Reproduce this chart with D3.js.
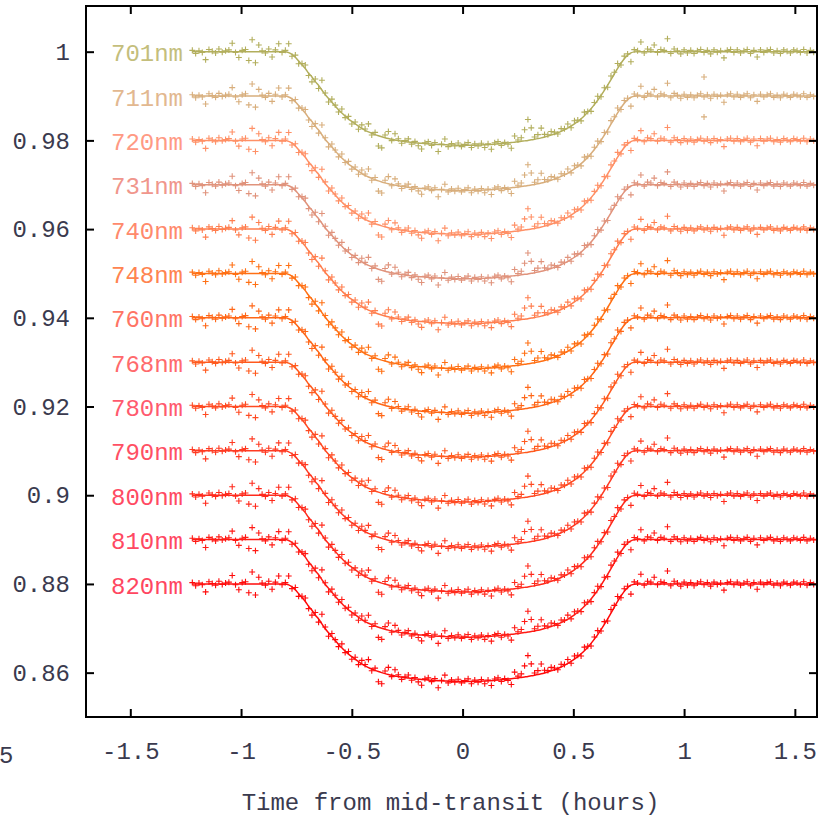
<!DOCTYPE html>
<html><head><meta charset="utf-8">
<script src="https://cdn.jsdelivr.net/npm/d3@7"></script>
<style>
html,body{margin:0;padding:0;background:#fff;}
svg{display:block;}
text{font-family:"Liberation Mono","DejaVu Sans Mono",monospace;}
</style></head>
<body><svg id="chart" width="829" height="819"></svg>
<script>
// ---------- data ----------
const seriesNames = ["701nm","711nm","720nm","731nm","740nm","748nm","760nm","768nm","780nm","790nm","800nm","810nm","820nm"];
const baselines   = [1.00,0.99,0.98,0.97,0.96,0.95,0.94,0.93,0.92,0.91,0.90,0.89,0.88];
const depths      = [0.0211,0.0213,0.0212,0.0212,0.0213,0.0215,0.0215,0.0214,0.0215,0.0217,0.0218,0.0220,0.0220];
const lineColors  = ["#b2ae5c","#d8ae7c","#ff9066","#e0937c","#ff7e4e","#ff7014","#ff6616","#ff5a1e","#ff4a22","#ff3a22","#ff2a1c","#ff1a14","#ff0a0a"];
const labelColors = ["#c4be7c","#e2b890","#ff9a84","#f0968c","#ff8a6c","#ff8450","#ff7464","#ff6a6c","#ff5a6e","#ff5064","#ff4a62","#ff4862","#ff4660"];

// observation times (hours from mid-transit)
const times = [
-1.220,-1.205,-1.190,-1.175,-1.160,-1.145,-1.130,-1.115,-1.100,-1.085,
-1.070,-1.055,-1.040,-1.025,-1.010,-0.995,-0.980,-0.965,-0.950,-0.935,
-0.920,-0.905,-0.890,-0.875,-0.860,-0.845,-0.830,-0.815,-0.800,-0.785,
-0.770,-0.755,-0.740,-0.725,-0.710,-0.695,-0.680,-0.665,-0.650,-0.635,
-0.620,-0.605,-0.590,-0.575,-0.560,-0.545,-0.530,-0.515,-0.500,-0.485,
-0.470,-0.455,-0.440,-0.425,-0.410,-0.395,-0.380,-0.365,-0.350,-0.335,
-0.320,-0.305,-0.290,-0.275,-0.260,-0.245,-0.230,-0.215,-0.200,-0.185,
-0.170,-0.155,-0.140,-0.125,-0.110,-0.095,-0.080,-0.065,-0.050,-0.035,
-0.020,-0.005,0.010,0.025,0.040,0.055,0.070,0.085,0.100,0.115,
0.130,0.145,0.160,0.175,0.190,0.205,0.220,0.235,0.250,0.265,
0.280,0.295,0.310,0.325,0.340,0.355,0.370,0.385,0.400,0.415,
0.430,0.445,0.460,0.475,0.490,0.505,0.520,0.535,0.550,0.565,
0.580,0.595,0.610,0.625,0.640,0.655,0.670,0.685,0.700,0.715,
0.730,0.745,0.760,0.775,0.790,0.805,0.820,0.835,0.850,0.865,
0.880,0.895,0.910,0.925,0.940,0.955,0.970,0.985,1.000,1.015,
1.030,1.045,1.060,1.075,1.090,1.105,1.120,1.135,1.150,1.165,
1.180,1.195,1.210,1.225,1.240,1.255,1.270,1.285,1.300,1.315,
1.330,1.345,1.360,1.375,1.390,1.405,1.420,1.435,1.450,1.465,
1.480,1.495,1.510,1.525,1.540,1.555,1.570,1.585];

// fitted transit shape (fraction of full depth) at each time
const transitShape = [
0,0,0,0,0,0,0,0,0,0,
0,0,0,0,0,0,0,0,0,0,
0,0,0,0,0,0,0,0,0,0.01,
0.03,0.06,0.10,0.14,0.18,0.23,0.27,0.32,0.36,0.41,
0.46,0.50,0.54,0.58,0.62,0.655,0.69,0.72,0.745,0.77,
0.795,0.82,0.84,0.857,0.872,0.886,0.898,0.909,0.919,0.928,
0.936,0.943,0.949,0.955,0.960,0.965,0.969,0.973,0.976,0.979,
0.982,0.985,0.987,0.989,0.991,0.993,0.994,0.996,0.997,0.998,
0.999,1.0,1.0,1.0,1.0,0.999,0.998,0.997,0.995,0.993,
0.991,0.988,0.985,0.982,0.979,0.975,0.971,0.967,0.963,0.958,
0.953,0.948,0.942,0.936,0.929,0.921,0.912,0.902,0.891,0.879,
0.866,0.851,0.834,0.815,0.794,0.771,0.745,0.716,0.684,0.648,
0.609,0.566,0.519,0.468,0.414,0.357,0.298,0.238,0.179,0.124,
0.076,0.038,0.013,0.002,0,0,0,0,0,0,
0,0,0,0,0,0,0,0,0,0,
0,0,0,0,0,0,0,0,0,0,
0,0,0,0,0,0,0,0,0,0,
0,0,0,0,0,0,0,0,0,0,
0,0,0,0,0,0,0,0];

// common residuals of the photometry (units of 1e-4 relative flux)
const residuals = [
3,-4,2,-2,-18,5,1,-3,6,-1,
2,4,19,-2,-13,3,5,-20,27,-25,
15,2,-3,6,-12,4,18,-2,3,20,
-4,5,-6,3,8,-5,-11,6,-7,22,
4,-8,7,2,-5,9,-3,6,-6,4,
-7,8,3,18,-4,5,-23,-25,6,16,
-3,14,4,-5,2,7,-4,3,-6,-13,
2,5,-3,4,-16,1,13,-4,3,-2,
5,-3,2,6,-5,3,-2,4,-6,2,
-11,3,5,-4,2,-3,-13,14,4,8,
25,47,27,5,9,22,6,3,8,4,
-3,6,2,9,-4,7,3,-5,8,2,
-6,5,9,-3,6,-5,8,4,11,-4,
6,3,-20,5,2,22,-3,6,4,15,
-2,5,3,29,-4,6,2,-5,4,-3,
3,-4,2,5,-2,3,-5,4,-1,2,
-14,3,5,-2,4,-3,2,5,-4,3,
-12,4,-2,3,5,-3,2,-4,4,1,
-3,4,2,-2,5,-3,3,-1];

// isolated extra points seen on single curves: [series index, time, flux]
const extraPoints = [[1,1.09,0.9943],[1,1.09,0.9853]];

const xTicks = [-1.5,-1,-0.5,0,0.5,1,1.5];
const yTicks = [0.86,0.88,0.9,0.92,0.94,0.96,0.98,1];
const xTitle = "Time from mid-transit (hours)";

// ---------- layout ----------
const svg = d3.select("#chart");
const L=86, R=817, T=6, B=717;
const x = d3.scaleLinear().domain([-1.7,1.6]).range([L,R]);
const y = d3.scaleLinear().domain([0.85,1.0103]).range([B,T]);
const axisColor = "#3a3a4e";
const fs = 24;

svg.append("defs").append("clipPath").attr("id","clip")
  .append("rect").attr("x",L).attr("y",T).attr("width",R-L).attr("height",B-T);

const plot = svg.append("g").attr("clip-path","url(#clip)");

const lineGen = d3.line().x(d=>x(d[0])).y(d=>y(d[1])).curve(d3.curveMonotoneX);
const plusPath = "M-3,0H3M0,-3V3";

seriesNames.forEach((name,s)=>{
  const model = times.map((t,i)=>[t, baselines[s]-depths[s]*transitShape[i]]);
  model.push([1.6, baselines[s]]);
  const pts = times.map((t,i)=>[t, baselines[s]-depths[s]*transitShape[i]+residuals[i]*1e-4]);
  extraPoints.filter(e=>e[0]===s).forEach(e=>pts.push([e[1],e[2]]));
  const g = plot.append("g");
  g.selectAll("path.pt").data(pts).join("path").attr("class","pt")
    .attr("d",plusPath)
    .attr("transform",d=>`translate(${x(d[0])},${y(d[1])})`)
    .attr("stroke",lineColors[s]).attr("stroke-width",1.1).attr("fill","none");
  g.append("path").datum(model).attr("d",lineGen)
    .attr("fill","none").attr("stroke",lineColors[s]).attr("stroke-width",1.5);
  svg.append("text").attr("x",x(-1.262)).attr("y",y(baselines[s])).attr("dy","0.4em")
    .attr("text-anchor","end").attr("font-size",fs).attr("fill",labelColors[s]).text(name);
});

// axes (gnuplot style: inward ticks on all sides)
const fmt = d=>String(d);
const gx = svg.append("g").attr("transform",`translate(0,${B})`)
  .call(d3.axisBottom(x).tickValues(xTicks).tickFormat(fmt).tickSizeInner(-8).tickSizeOuter(0).tickPadding(25));
const gxTop = svg.append("g").attr("transform",`translate(0,${T})`)
  .call(d3.axisTop(x).tickValues(xTicks).tickFormat("").tickSizeInner(-8).tickSizeOuter(0));
const gy = svg.append("g").attr("transform",`translate(${L},0)`)
  .call(d3.axisLeft(y).tickValues(yTicks).tickFormat(fmt).tickSizeInner(-8).tickSizeOuter(0).tickPadding(16));
const gyR = svg.append("g").attr("transform",`translate(${R},0)`)
  .call(d3.axisRight(y).tickValues(yTicks).tickFormat("").tickSizeInner(-8).tickSizeOuter(0));
[gx,gxTop,gy,gyR].forEach(g=>{
  g.select(".domain").remove();
  g.selectAll(".tick line").attr("stroke","#000").attr("stroke-width",2);
  g.selectAll("text").attr("font-family",'"Liberation Mono",monospace').attr("font-size",fs).attr("fill",axisColor);
});

svg.append("rect").attr("x",L).attr("y",T).attr("width",R-L).attr("height",B-T)
  .attr("fill","none").attr("stroke","#000").attr("stroke-width",2);

// axis title
svg.append("text").attr("x",(L+R)/2-1).attr("y",810).attr("text-anchor","middle")
  .attr("font-size",fs).attr("fill",axisColor).text(xTitle);

// fragment of the neighbouring panel's tick label at the far left edge
svg.append("text").attr("x",-1).attr("y",763).attr("text-anchor","start")
  .attr("font-size",fs).attr("fill",axisColor).text("5");
</script></body></html>
